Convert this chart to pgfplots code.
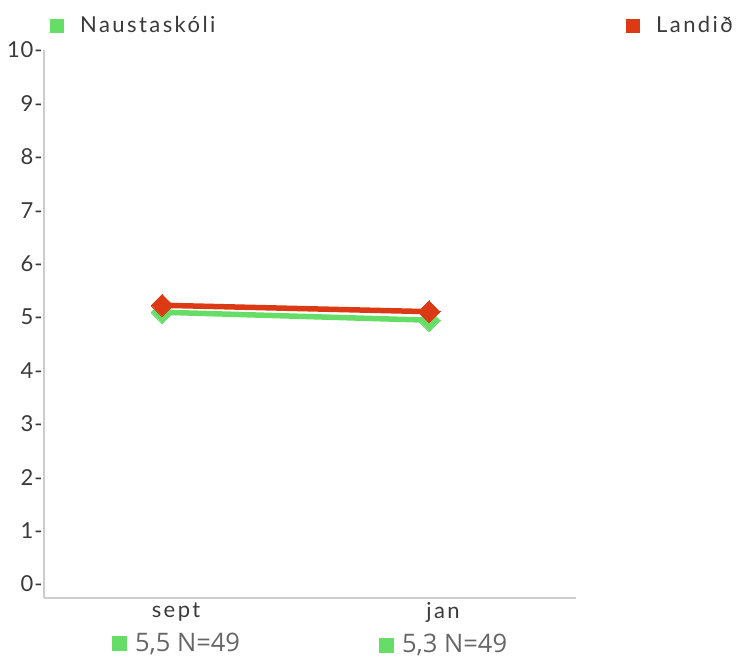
\documentclass[border=0pt]{standalone}
\usepackage{pgfplots}
\pgfplotsset{compat=1.18}
\usepackage{fontspec}
\setmainfont{Lato}[LetterSpace=11]
\newfontfamily\labfont{Open Sans}
\definecolor{gr}{HTML}{66DD66}
\definecolor{rd}{HTML}{DC3A14}
\definecolor{txt}{HTML}{3A3A3A}
\definecolor{lab}{HTML}{666666}
\definecolor{axc}{HTML}{CCCCCC}
\newcommand{\sq}[1]{\textcolor{#1}{\rule{14pt}{14pt}}}
\newcommand{\bsq}{\textcolor{gr}{\rule{15pt}{15pt}}\hspace{8pt}}
\begin{document}
\begin{tikzpicture}
\path[use as bounding box] (0pt,0pt) rectangle (741pt,659pt);
\begin{axis}[
  at={(44pt,61pt)}, anchor=south west,
  scale only axis, width=532pt, height=548pt,
  xmin=-0.442, xmax=1.55, ymin=-0.262, ymax=10,
  axis x line*=bottom, axis y line*=left,
  axis line style={axc, line width=2.5pt, -},
  major tick length=0pt,
  ytick={0,1,...,10},
  yticklabel={\pgfmathprintnumber{\tick}-},
  yticklabel style={font=\fontsize{22}{26}\selectfont\addfontfeature{LetterSpace=4}, text=txt, anchor=east, xshift=2pt},
  /pgf/number format/assume math mode=true,
  xtick={0,1},
  xticklabels={{sept\\[8pt]{\labfont\fontsize{25.5}{28}\selectfont\color{lab}\bsq{}5,5 N=49}},{jan\\[8pt]{\labfont\fontsize{25.5}{28}\selectfont\color{lab}\bsq{}5,3 N=49}}},
  xticklabel style={font=\fontsize{22}{26}\selectfont, text=txt, align=center, anchor=north, yshift=-1pt, xshift=14pt},
  clip=false,
]
\addplot[gr, line width=5.5pt, mark=square*, mark size=7.8pt, mark options={rotate=45, line width=0pt}] coordinates {(0,5.09) (1,4.94)};
\addplot[rd, line width=5.5pt, mark=square*, mark size=7.8pt, mark options={rotate=45, line width=0pt}] coordinates {(0,5.22) (1,5.10)};
\end{axis}
\node[anchor=center] at (57pt,633pt) {\sq{gr}};
\node[anchor=base west, inner sep=0pt, text=txt, font=\fontsize{22}{26}\selectfont] at (80pt,626pt) {Naustaskóli};
\node[anchor=center] at (633pt,633pt) {\sq{rd}};
\node[anchor=base west, inner sep=0pt, text=txt, font=\fontsize{22}{26}\selectfont] at (656pt,626pt) {Landið};
\end{tikzpicture}
\end{document}
